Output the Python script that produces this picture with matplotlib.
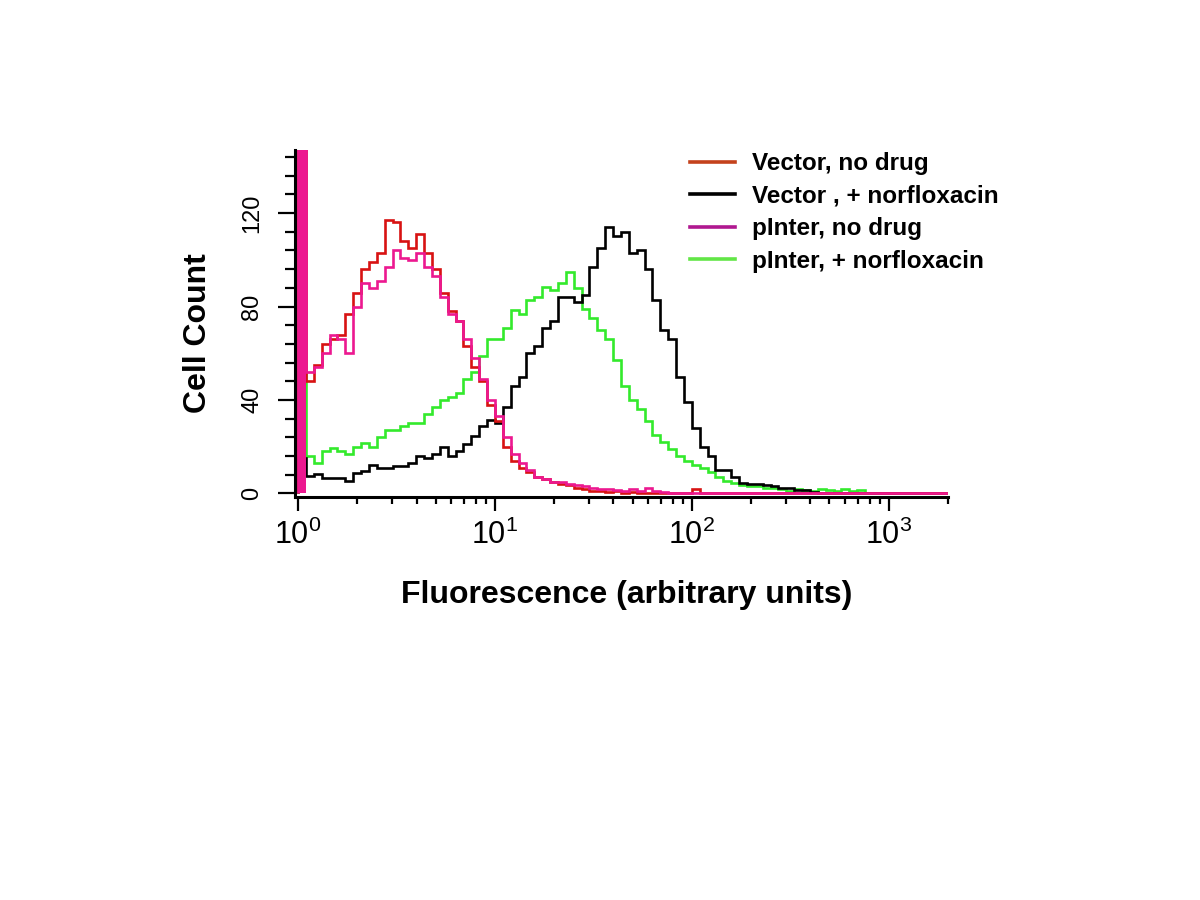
import numpy as np
import matplotlib
matplotlib.use('Agg')
import matplotlib.pyplot as plt
from matplotlib.lines import Line2D
from matplotlib.ticker import MultipleLocator, FixedLocator, FuncFormatter, NullFormatter

# log channel edges, 25 channels per decade (instrument scale)
edges = 10 ** (np.arange(85) / 25.0)

vector_nodrug = [400, 48, 55, 64, 66, 68, 77, 86, 96, 99,
                 103, 117, 116, 108, 105, 111, 103, 96, 86, 78,
                 74, 63, 54, 48, 38, 31, 20, 14, 11, 9,
                 7, 6, 5, 4, 3.5, 2.5, 2, 1, 1, 0.5,
                 1, 0, 0.5, 0, 0, 0, 0, 0, 0, 0,
                 2, 0, 0, 0, 0, 0, 0, 0, 0, 0,
                 0, 0, 0, 0, 0, 0, 0, 0, 0, 0,
                 0, 0, 0, 0, 0, 0, 0, 0, 0, 0,
                 0, 0, 0, 0]
vector_norflox = [15, 7.5, 8.5, 6.7, 6.7, 6.7, 5.3, 8.8, 9.5, 12.4,
                  11, 11, 11.7, 11.7, 13, 16, 15, 17, 20, 16,
                  18, 21, 24.5, 29, 31.6, 30, 37, 46, 50, 60,
                  63, 71, 74, 84, 84, 82, 85, 97, 105, 114,
                  110, 112, 103, 104, 96, 83, 70, 66, 50, 39,
                  28, 20, 16, 10, 10, 7, 4.5, 4, 4, 3.8,
                  3, 2.4, 2.4, 1.5, 1.3, 0.5, 0, 0, 0, 0,
                  0, 0, 0, 0, 0, 0, 0, 0, 0, 0,
                  0, 0, 0, 0]
pinter_nodrug = [400, 52, 54, 60, 68, 66, 60, 80, 90, 88,
                 91, 97, 104, 101, 100, 103, 97, 93, 84, 77,
                 74, 66, 58, 49, 40, 33, 24, 17, 13, 10,
                 7, 6, 5, 5, 4, 3.5, 3, 2.5, 2, 2,
                 1.5, 1, 2, 1, 2.5, 1, 0.5, 0, 0, 0,
                 0, 0, 0, 0, 0, 0, 0, 0, 0, 0,
                 0, 0, 0, 0, 0, 0, 0, 0, 0, 0,
                 0, 0, 0, 0, 0, 0, 0, 0, 0, 0,
                 0, 0, 0, 0]
pinter_norflox = [52, 16, 13, 18, 19.5, 18, 17, 20, 21.5, 20,
                  24, 27, 27, 29, 30, 30, 34, 37, 40, 41.5,
                  43, 49, 52, 59, 66, 66, 71, 78.5, 77, 83,
                  84, 88.5, 87, 90, 95, 88, 79, 75, 70, 66,
                  57, 46, 40, 36, 31, 25, 22, 19, 16, 14,
                  12, 11, 9, 7, 5.5, 4.5, 3.5, 3, 3, 2.5,
                  2.5, 2, 1, 2, 1.5, 1, 2, 1.5, 1, 2,
                  1, 1.5, 0, 0, 0, 0, 0, 0, 0, 0,
                  0, 0, 0, 0]

labels = ['Vector, no drug', 'Vector , + norfloxacin',
          'pInter, no drug', 'pInter, + norfloxacin']
curve_colors = ['#d81212', '#000000', '#ec1890', '#33ea2c']
legend_colors = ['#c4421c', '#000000', '#b01890', '#62e646']

plt.rcParams['font.family'] = ['Liberation Sans', 'DejaVu Sans']
plt.rcParams['mathtext.fontset'] = 'custom'
plt.rcParams['mathtext.rm'] = 'Liberation Sans'
plt.rcParams['mathtext.it'] = 'Liberation Sans'

fig = plt.figure(figsize=(12, 9), dpi=100)
ax = fig.add_axes([0.2458, 0.4483, 0.5442, 0.385])

series = [vector_nodrug, vector_norflox, pinter_nodrug, pinter_norflox]
for k in [3, 1, 0, 2]:
    ax.stairs(series[k], edges, baseline=0, color=curve_colors[k], lw=1.9)
# off-scale first channel of pInter, no drug
ax.stairs(pinter_nodrug[:1], edges[:2], fill=True, color=curve_colors[2])

ax.set_xscale('log')
ax.set_xlim(0.965, 2000)
ax.set_ylim(-1.3, 147)

for s in ['top', 'right']:
    ax.spines[s].set_visible(False)
for s in ['left', 'bottom']:
    ax.spines[s].set_linewidth(2.2)

ax.xaxis.set_major_locator(FixedLocator([1, 10, 100, 1000]))
ax.xaxis.set_minor_locator(FixedLocator([m * d for d in [1, 10, 100, 1000] for m in range(2, 10)]))
ax.xaxis.set_major_formatter(FuncFormatter(lambda v, p: r'$10^{%d}$' % round(np.log10(v))))
ax.xaxis.set_minor_formatter(NullFormatter())
ax.yaxis.set_major_locator(FixedLocator([0, 40, 80, 120]))
ax.yaxis.set_minor_locator(MultipleLocator(8))

ax.tick_params(axis='x', which='major', direction='out', length=10, width=1.6, pad=7, labelsize=22)
ax.tick_params(axis='x', which='minor', direction='out', length=5, width=1.6)
ax.tick_params(axis='y', which='major', direction='out', length=12, width=1.6, pad=11, labelsize=17)
ax.tick_params(axis='y', which='minor', direction='out', length=7, width=1.6)
for t in ax.get_yticklabels():
    t.set_rotation(90)
    t.set_va('center')

fig.text(198 / 1200, 1 - 333 / 900, 'Cell Count', rotation=90, ha='center', va='center',
         fontsize=23, fontweight='bold')
fig.text(627 / 1200, 1 - 595 / 900, 'Fluorescence (arbitrary units)', ha='center', va='center',
         fontsize=23, fontweight='bold')

handles = [Line2D([], [], color=c, lw=2.6) for c in legend_colors]
ax.legend(handles, labels, loc='upper left', bbox_to_anchor=(0.575, 0.831),
          bbox_transform=fig.transFigure, frameon=False, borderpad=0, borderaxespad=0,
          handlelength=1.85, handletextpad=0.7, labelspacing=0.39,
          prop={'weight': 'bold', 'size': 17.5})

fig.savefig('out.png', dpi=100)
